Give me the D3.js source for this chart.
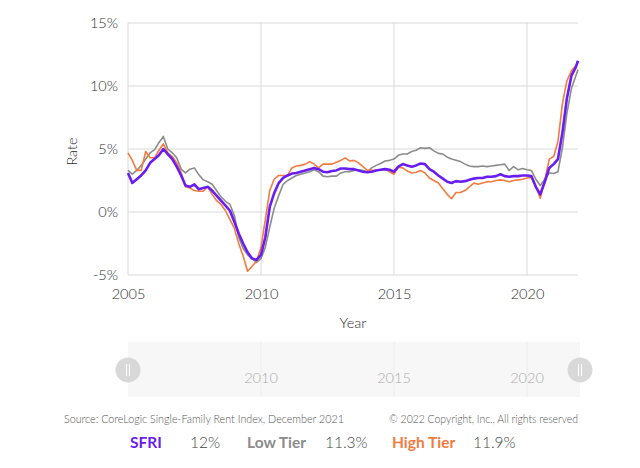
<!DOCTYPE html>
<html>
<head>
<meta charset="utf-8">
<script src="https://cdn.jsdelivr.net/npm/d3@7"></script>
<style>
  html, body { margin: 0; padding: 0; background: #fff; }
  svg { display: block; font-family: Lato, 'Open Sans', sans-serif; }
</style>
</head>
<body>
<div id="chart"></div>
<script>
// bimonthly readings Jan 2005 .. Nov 2021, last value is Dec 2021
const sfri = [
  3.1, 2.3, 2.6, 2.9, 3.3, 3.9,
  4.2, 4.5, 5.0, 4.6, 4.2, 3.6,
  2.9, 2.1, 2.0, 2.2, 1.8, 1.9,
  2.0, 1.7, 1.3, 0.9, 0.5, 0.1,
  -0.8, -1.7, -2.5, -3.2, -3.7, -3.8,
  -3.4, -2.0, 0.4, 1.5, 2.3, 2.7,
  2.9, 3.05, 3.1, 3.2, 3.3, 3.4,
  3.5, 3.4, 3.2, 3.15, 3.25, 3.3,
  3.45, 3.45, 3.4, 3.4, 3.3, 3.2,
  3.15, 3.2, 3.3, 3.35, 3.4, 3.35,
  3.2, 3.6, 3.8, 3.7, 3.6, 3.7,
  3.85, 3.8, 3.4, 3.2, 2.9, 2.65,
  2.4, 2.3, 2.45, 2.4, 2.45, 2.55,
  2.65, 2.7, 2.7, 2.8, 2.8, 2.85,
  3.0, 2.85, 2.8, 2.85, 2.85, 2.9,
  2.9, 2.85, 2.0, 1.4, 2.4, 3.5,
  3.8, 4.2, 6.3, 9.0, 10.8, 11.5, 12.0
];

const lowTier = [
  3.3, 3.0, 3.3, 3.7, 4.2, 4.7,
  4.95, 5.5, 6.0, 5.0, 4.7, 4.3,
  3.4, 3.1, 3.4, 3.5, 2.95, 2.55,
  2.4, 2.2, 1.7, 1.2, 0.85, 0.6,
  -0.3, -2.0, -2.9, -3.4, -3.7, -4.0,
  -3.7, -2.8, -1.2, 0.3, 1.3, 2.2,
  2.5, 2.7, 2.9, 3.0, 3.1, 3.2,
  3.35, 3.2, 2.85, 2.8, 2.85, 2.85,
  3.1, 3.2, 3.2, 3.3, 3.35, 3.3,
  3.2, 3.5, 3.7, 3.85, 4.05, 4.1,
  4.2, 4.5, 4.6, 4.6, 4.8, 4.9,
  5.1, 5.05, 5.1, 4.85, 4.65, 4.6,
  4.35, 4.2, 4.1, 4.0, 3.8, 3.65,
  3.6, 3.6, 3.65, 3.6, 3.65, 3.7,
  3.75, 3.8, 3.3, 3.6, 3.35, 3.45,
  3.35, 3.3, 2.6, 2.1, 2.6, 3.1,
  3.05, 3.2, 5.1, 7.8, 9.8, 10.8, 11.3
];

const highTier = [
  4.7, 4.1, 3.3, 3.3, 4.8, 4.3,
  4.3, 4.9, 5.4, 4.7, 4.4, 3.9,
  3.1, 2.0, 1.9, 1.7, 1.65, 1.65,
  2.0, 1.4, 0.9, 0.6, 0.1, -0.6,
  -1.3, -2.5, -3.5, -4.7, -4.3, -3.9,
  -2.8, -0.6, 1.7, 2.6, 2.9, 2.9,
  2.9, 3.5, 3.65, 3.7, 3.8, 4.0,
  3.8, 3.5, 3.8, 3.8, 3.8, 3.95,
  4.1, 4.3, 4.05, 4.1, 3.9, 3.6,
  3.3, 3.3, 3.3, 3.35, 3.4, 3.2,
  3.0, 3.55, 3.5, 3.25, 3.1, 3.15,
  3.3, 3.1, 2.7, 2.5, 2.3, 1.85,
  1.4, 1.05, 1.55, 1.55, 1.7, 2.0,
  2.3, 2.2, 2.3, 2.4, 2.4, 2.5,
  2.55, 2.5, 2.4, 2.5, 2.55, 2.6,
  2.7, 2.75, 2.0, 1.1, 2.5, 4.2,
  4.4, 5.6, 8.6, 10.4, 11.2, 11.6, 11.9
];

const yTicks = [-5, 0, 5, 10, 15];
const xTickYears = [2005, 2010, 2015, 2020];
const sliderYears = [2010, 2015, 2020];

const legendItems = [
  { name: 'SFRI', value: '12%', color: '#6a1df0', values: sfri },
  { name: 'Low Tier', value: '11.3%', color: '#8c8c8c', values: lowTier },
  { name: 'High Tier', value: '11.9%', color: '#f47b3f', values: highTier },
];

const sourceText = 'Source: CoreLogic Single-Family Rent Index, December 2021';
const copyrightText = '\u00a9 2022 Copyright, Inc., All rights reserved';

const width = 640;
const height = 468;
const margin = { top: 23, right: 62, bottom: 193, left: 128 };

const dates = d3.timeMonth.range(new Date(2005, 0, 1), new Date(2022, 0, 1), 2)
  .concat([new Date(2021, 11, 1)]);

const svg = d3.select('#chart')
  .append('svg')
  .attr('width', width)
  .attr('height', height);

const x = d3.scaleTime()
  .domain([new Date(2005, 0, 1), new Date(2021, 11, 1)])
  .range([margin.left, width - margin.right]);

const y = d3.scaleLinear()
  .domain([-5, 15])
  .range([height - margin.bottom, margin.top]);

const yearDate = yr => new Date(yr, 0, 1);

// grid
const grid = svg.append('g').attr('class', 'grid');

grid.selectAll('line.h')
  .data(yTicks)
  .join('line')
  .attr('class', 'h')
  .attr('x1', x.range()[0])
  .attr('x2', x.range()[1])
  .attr('y1', d => y(d))
  .attr('y2', d => y(d))
  .attr('stroke', '#d9d9d9');

grid.selectAll('line.v')
  .data(xTickYears)
  .join('line')
  .attr('class', 'v')
  .attr('x1', d => x(yearDate(d)))
  .attr('x2', d => x(yearDate(d)))
  .attr('y1', y(15))
  .attr('y2', y(-5))
  .attr('stroke', '#d9d9d9');

// axes (labels only)
const yAxis = d3.axisLeft(y)
  .tickValues(yTicks)
  .tickSize(0)
  .tickPadding(10)
  .tickFormat(d => d + '%');

svg.append('g')
  .attr('class', 'axis axis--y')
  .attr('transform', `translate(${margin.left}, 0)`)
  .call(yAxis)
  .call(g => g.select('.domain').remove());

const xAxis = d3.axisBottom(x)
  .tickValues(xTickYears.map(yearDate))
  .tickSize(0)
  .tickPadding(14)
  .tickFormat(d3.timeFormat('%Y'));

svg.append('g')
  .attr('class', 'axis axis--x')
  .attr('transform', `translate(0, ${y(-5)})`)
  .call(xAxis)
  .call(g => g.select('.domain').remove());

svg.selectAll('.axis text')
  .attr('font-family', 'Lato, sans-serif')
  .attr('font-size', 14.5)
  .attr('font-weight', 300)
  .attr('fill', '#2e2e2e');

svg.append('text')
  .attr('transform', `translate(77, ${y(4.8)}) rotate(-90)`)
  .attr('text-anchor', 'middle')
  .attr('font-size', 14.5)
  .attr('font-weight', 300)
  .attr('fill', '#2e2e2e')
  .text('Rate');

svg.append('text')
  .attr('x', (x.range()[0] + x.range()[1]) / 2)
  .attr('y', 328)
  .attr('text-anchor', 'middle')
  .attr('font-size', 14.5)
  .attr('font-weight', 300)
  .attr('fill', '#2e2e2e')
  .text('Year');

// lines
const line = d3.line()
  .x((d, i) => x(dates[i]))
  .y(d => y(d));

const drawOrder = [legendItems[1], legendItems[2], legendItems[0]];

svg.append('g')
  .attr('class', 'lines')
  .selectAll('path')
  .data(drawOrder)
  .join('path')
  .attr('d', d => line(d.values))
  .attr('fill', 'none')
  .attr('stroke', d => d.color)
  .attr('stroke-width', d => d.name === 'SFRI' ? 2.6 : 1.6)
  .attr('stroke-linejoin', 'round');

// range slider
const slider = svg.append('g').attr('class', 'slider');
const sx0 = x.range()[0];
const sx1 = x.range()[1] + 2;

slider.append('rect')
  .attr('x', sx0)
  .attr('y', 342)
  .attr('width', sx1 - sx0)
  .attr('height', 55)
  .attr('fill', '#f7f7f7');

slider.selectAll('line')
  .data(sliderYears)
  .join('line')
  .attr('x1', d => x(yearDate(d)))
  .attr('x2', d => x(yearDate(d)))
  .attr('y1', 342)
  .attr('y2', 397)
  .attr('stroke', '#ececec');

slider.selectAll('text')
  .data(sliderYears)
  .join('text')
  .attr('x', d => x(yearDate(d)))
  .attr('y', 383)
  .attr('text-anchor', 'middle')
  .attr('font-size', 14.5)
  .attr('font-weight', 300)
  .attr('fill', '#aaa')
  .text(d => d);

const handles = slider.selectAll('g.handle')
  .data([sx0, sx1])
  .join('g')
  .attr('class', 'handle')
  .attr('transform', d => `translate(${d}, 370)`);

handles.append('circle')
  .attr('r', 12.5)
  .attr('fill', '#d8d8d8');

handles.selectAll('line')
  .data([-1.5, 1.5])
  .join('line')
  .attr('x1', d => d)
  .attr('x2', d => d)
  .attr('y1', -6)
  .attr('y2', 6)
  .attr('stroke', '#fff')
  .attr('stroke-width', 1);

// footer
svg.append('text')
  .attr('x', 64)
  .attr('y', 423)
  .attr('font-size', 11)
  .attr('font-weight', 300)
  .attr('fill', '#555')
  .attr('textLength', 280)
  .attr('lengthAdjust', 'spacingAndGlyphs')
  .text(sourceText);

svg.append('text')
  .attr('x', 389)
  .attr('y', 423)
  .attr('font-size', 11)
  .attr('font-weight', 300)
  .attr('fill', '#555')
  .attr('textLength', 189)
  .attr('lengthAdjust', 'spacingAndGlyphs')
  .text(copyrightText);

const legendPos = [
  { nameX: 130, valueX: 190 },
  { nameX: 247, valueX: 325 },
  { nameX: 392, valueX: 473 },
];

const legend = svg.append('g')
  .attr('class', 'legend')
  .selectAll('g')
  .data(legendItems)
  .join('g');

legend.append('text')
  .attr('x', (d, i) => legendPos[i].nameX)
  .attr('y', 448)
  .attr('font-size', 15.5)
  .attr('font-weight', 700)
  .attr('fill', d => d.color)
  .text(d => d.name);

legend.append('text')
  .attr('x', (d, i) => legendPos[i].valueX)
  .attr('y', 448)
  .attr('font-size', 15.5)
  .attr('font-weight', 300)
  .attr('fill', '#444')
  .text(d => d.value);
</script>
</body>
</html>
